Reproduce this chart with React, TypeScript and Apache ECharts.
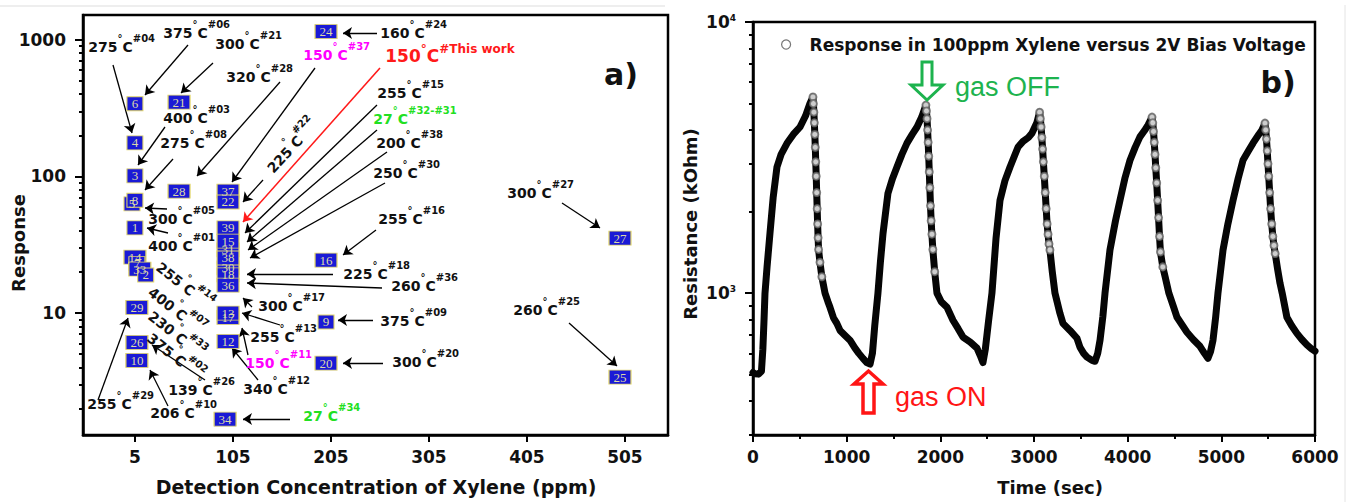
import { useEffect, useRef } from 'react';
import * as echarts from 'echarts';

const FONT = 'DejaVu Sans';
const INK = '#111';

// ---------- panel a) ----------
const xTicksA = [5, 105, 205, 305, 405, 505];
const yMajorA = [10, 100, 1000];
const yMinorA = [2, 3, 4, 5, 6, 7, 8, 9, 20, 30, 40, 50, 60, 70, 80, 90, 200, 300, 400, 500, 600, 700, 800, 900];

const squareIds = ['6', '21', '4', '3', '28', '37', '22', '5', '8', '1', '31', '30', '18', '39', '15', '38', '36', '17', '13', '12', '34', '14', '7', '33', '2', '29', '26', '10', '24', '16', '9', '20', '27', '25'];
const squareConc = [5, 50, 5, 5, 50, 100, 100, 2, 5, 5, 100, 100, 100, 100, 100, 100, 100, 100, 100, 100, 97, 5, 7, 10, 16, 7, 7, 7, 200, 200, 200, 200, 500, 500];
const squareResp = [340, 350, 176, 101, 78, 78, 65, 63, 67, 42, 29, 21.4, 19, 42, 33.6, 25.3, 16, 9.3, 10, 6.2, 1.67, 25.7, 23, 21, 19, 11, 6.1, 4.5, 1150, 24.4, 8.6, 4.3, 35.4, 3.4];

// ---------- panel b) ----------
const xTicksB = [0, 1000, 2000, 3000, 4000, 5000, 6000];
const yMajorB = [1000, 10000];
const yMinorB = [300, 400, 500, 600, 700, 800, 900, 2000, 3000, 4000, 5000, 6000, 7000, 8000, 9000];
const legendName = 'Response in 100ppm Xylene versus 2V Bias Voltage';
const gasOffTimes = [640, 1846, 3060, 4260, 5466];

const cycle1: [number, number][] = [
  [0, 510], [20, 505], [60, 503], [90, 515], [105, 620], [118, 800], [128, 1000], [150, 1250], [181, 1660], [215, 2250], [256, 2920], [300, 3250], [363, 3570], [430, 3850], [502, 4100], [560, 4500], [608, 5010], [640, 5290],
  [645, 5000], [650, 4650], [655, 4250], [660, 3850], [665, 3450], [670, 3050], [675, 2700], [680, 2350], [685, 2050], [690, 1800], [695, 1600], [700, 1450],
  [715, 1300], [735, 1150], [769, 1000], [800, 930], [822, 887], [860, 810], [895, 774], [929, 729], [980, 700], [1035, 671], [1089, 627], [1130, 600], [1174, 575], [1215, 555], [1250, 548],
];
const cycle2: [number, number][] = [
  [1275, 600], [1300, 760], [1334, 1000], [1360, 1300], [1388, 1660], [1441, 2338], [1490, 2650], [1537, 2920], [1590, 3250], [1644, 3575], [1700, 3850], [1751, 4100], [1800, 4450], [1846, 4940],
  [1852, 4700], [1858, 4400], [1864, 4000], [1870, 3600], [1876, 3200], [1882, 2800], [1888, 2450], [1895, 2100], [1902, 1850], [1910, 1650], [1920, 1450],
  [1940, 1200], [1964, 1000], [2010, 930], [2071, 887], [2135, 795], [2190, 740], [2242, 689], [2320, 660], [2391, 627], [2425, 590], [2455, 555],
];
const cycle3: [number, number][] = [
  [2480, 620], [2515, 790], [2551, 1000], [2595, 1600], [2637, 2200], [2690, 2600], [2744, 2920], [2790, 3200], [2830, 3460], [2883, 3630], [2940, 3750], [2978, 3890], [3030, 4250], [3060, 4650],
  [3068, 4400], [3076, 4100], [3084, 3750], [3092, 3400], [3100, 3050], [3110, 2700], [3120, 2350], [3130, 2050], [3140, 1800], [3150, 1650], [3160, 1520], [3170, 1443],
  [3195, 1200], [3224, 1000], [3277, 843], [3309, 774], [3384, 729], [3459, 682], [3491, 632], [3530, 600], [3566, 581], [3620, 565], [3651, 561],
];
const cycle4: [number, number][] = [
  [3680, 600], [3705, 671], [3735, 820], [3758, 1000], [3811, 1443], [3870, 1850], [3918, 2200], [3970, 2650], [4025, 3090], [4080, 3450], [4131, 3770], [4180, 3980], [4217, 4170], [4260, 4460],
  [4268, 4250], [4276, 3950], [4284, 3600], [4292, 3250], [4300, 2900], [4310, 2550], [4320, 2200], [4330, 1900], [4340, 1620], [4350, 1420],
  [4375, 1250], [4400, 1150], [4440, 1000], [4490, 890], [4527, 815], [4580, 765], [4633, 718], [4700, 675], [4772, 637], [4820, 600], [4857, 575],
];
const cycle5: [number, number][] = [
  [4885, 610], [4911, 671], [4940, 820], [4964, 1000], [5018, 1443], [5070, 1800], [5125, 2200], [5180, 2650], [5231, 3090], [5290, 3350], [5338, 3575], [5400, 3850], [5434, 4000], [5466, 4240],
  [5474, 4000], [5482, 3700], [5490, 3350], [5498, 3000], [5506, 2700], [5516, 2350], [5526, 2050], [5538, 1800], [5550, 1620], [5562, 1500], [5575, 1400],
  [5600, 1230], [5626, 1090], [5650, 1000], [5700, 815], [5750, 760], [5807, 711], [5860, 675], [5914, 645], [5960, 625], [6000, 611],
];

// ---------- annotations (layout) ----------
type Note = { t: string; r: string; x: number; y: number; c?: string; rot?: number; big?: boolean };
const notes: Note[] = [
  { t: '275', r: '#04', x: 88, y: 47 },
  { t: '375', r: '#06', x: 163, y: 33 },
  { t: '300', r: '#21', x: 215, y: 44 },
  { t: '320', r: '#28', x: 226, y: 77 },
  { t: '150', r: '#37', x: 303, y: 55, c: '#ff00ff' },
  { t: '400', r: '#03', x: 163, y: 118 },
  { t: '275', r: '#08', x: 160, y: 143 },
  { t: '225', r: '#22', x: 267, y: 172, rot: 47 },
  { t: '300', r: '#05', x: 148, y: 219 },
  { t: '400', r: '#01', x: 148, y: 246 },
  { t: '160', r: '#24', x: 380, y: 33 },
  { t: '150', r: '#This work', x: 385, y: 56, c: '#ff1a1a', big: true },
  { t: '255', r: '#15', x: 377, y: 93 },
  { t: '27', r: '#32-#31', x: 373, y: 119, c: '#22e022' },
  { t: '200', r: '#38', x: 376, y: 143 },
  { t: '250', r: '#30', x: 373, y: 173 },
  { t: '255', r: '#16', x: 378, y: 219 },
  { t: '300', r: '#27', x: 507, y: 193 },
  { t: '225', r: '#18', x: 343, y: 274 },
  { t: '260', r: '#36', x: 391, y: 286 },
  { t: '300', r: '#17', x: 258, y: 306 },
  { t: '375', r: '#09', x: 380, y: 321 },
  { t: '260', r: '#25', x: 513, y: 310 },
  { t: '255', r: '#13', x: 250, y: 337 },
  { t: '150', r: '#11', x: 245, y: 363, c: '#ff00ff' },
  { t: '300', r: '#20', x: 392, y: 362 },
  { t: '340', r: '#12', x: 243, y: 389 },
  { t: '139', r: '#26', x: 168, y: 390 },
  { t: '206', r: '#10', x: 150, y: 413 },
  { t: '255', r: '#29', x: 87, y: 404 },
  { t: '27', r: '#34', x: 303, y: 416, c: '#22e022' },
  { t: '255', r: '#14', x: 160, y: 266, rot: -38 },
  { t: '400', r: '#07', x: 152, y: 291, rot: -38 },
  { t: '230', r: '#33', x: 152, y: 315, rot: -38 },
  { t: '375', r: '#02', x: 151, y: 337, rot: -38 },
];

const arrows: [number, number, number, number, string?][] = [
  [113, 65, 132, 133], [188, 45, 145, 95], [213, 63, 181, 93], [280, 82, 197, 176], [315, 68, 232, 182],
  [380, 68, 243, 222, '#ff1a1a'], [165, 127, 138, 165], [173, 159, 145, 190], [263, 180, 243, 202],
  [167, 209, 145, 208], [168, 233, 147, 228], [377, 33, 343, 33], [377, 105, 245, 233], [377, 130, 247, 242],
  [387, 152, 248, 250], [385, 183, 250, 258], [376, 230, 343, 255], [333, 274, 247, 274], [382, 288, 247, 283],
  [252, 307, 243, 298], [280, 325, 242, 313], [248, 355, 242, 328], [258, 380, 232, 348], [373, 320, 338, 320],
  [383, 363, 343, 363], [562, 203, 600, 228], [569, 323, 617, 366], [290, 419, 243, 419], [205, 380, 152, 345],
  [168, 406, 150, 370], [98, 400, 128, 318],
];

function noteRich(size: number, sup: number, lh: number) {
  return {
    z: { fontSize: 1, lineHeight: lh },
    m: { fontSize: size, fontWeight: 'bold', fontFamily: FONT, lineHeight: size, verticalAlign: 'bottom' },
    s: { fontSize: sup, fontWeight: 'bold', fontFamily: FONT, lineHeight: sup, verticalAlign: 'top' },
  };
}

function buildOption() {
  const curve = [...cycle1, ...cycle2, ...cycle3, ...cycle4, ...cycle5];
  const dropPts = curve.filter(([t]) => gasOffTimes.some((o) => t >= o && t <= o + 115));

  const axisLine = { show: true, onZero: false, lineStyle: { color: '#000', width: 2.5 } };
  const tickLine = { color: '#000', width: 2 };
  const labelBase = { fontFamily: FONT, fontWeight: 'bold', fontSize: 17, color: INK, formatter: (v: number) => String(v) };

  const noteGraphics = notes.map((n) => {
    const size = n.big ? 17 : 14;
    const sup = n.big ? 12 : 10;
    const lh = n.big ? 22 : 21;
    return {
      type: 'text',
      x: n.x,
      y: n.y - (lh - size) / 2,
      rotation: ((n.rot || 0) * Math.PI) / 180,
      z: 50,
      style: {
        text: `{z| }{m|${n.t}}{s|°}{m|C}{s|${n.r}}`,
        rich: noteRich(size, sup, lh),
        fill: n.c || INK,
        align: 'left',
        verticalAlign: 'middle',
      },
    };
  });

  const titleStyle = { fontFamily: FONT, fontWeight: 'bold', fontSize: 18, fill: INK, align: 'center', verticalAlign: 'middle' };

  return {
    animation: false,
    backgroundColor: '#fff',
    grid: [
      { left: 83, top: 15, width: 585, height: 420, show: true, borderColor: '#000', borderWidth: 2.5, outerBoundsMode: 'none' },
      { left: 753, top: 22, width: 562, height: 413, show: true, borderColor: '#000', borderWidth: 2.5, outerBoundsMode: 'none' },
    ],
    legend: {
      data: [legendName],
      left: 776,
      top: 31,
      icon: 'circle',
      itemWidth: 9,
      itemHeight: 9,
      itemStyle: { color: '#fff', borderColor: '#777', borderWidth: 1.2 },
      textStyle: { fontFamily: FONT, fontWeight: 'bold', fontSize: 17, color: INK, padding: [0, 0, 0, 14] },
      selectedMode: false,
    },
    xAxis: [
      {
        gridIndex: 0, type: 'value', min: -48, max: 549,
        axisLine, splitLine: { show: false },
        axisTick: { show: true, customValues: xTicksA, length: 7, lineStyle: tickLine },
        axisLabel: { ...labelBase, customValues: xTicksA, margin: 13 },
      },
      {
        gridIndex: 1, type: 'value', min: 0, max: 6000, interval: 1000,
        axisLine, splitLine: { show: false },
        axisTick: { show: true, length: 7, lineStyle: tickLine },
        minorTick: { show: true, splitNumber: 2, length: 4, lineStyle: tickLine },
        axisLabel: { ...labelBase, customValues: xTicksB, margin: 13 },
      },
    ],
    yAxis: [
      {
        gridIndex: 0, type: 'log', position: 'left', min: 1.28, max: 1520,
        axisLine, splitLine: { show: false },
        axisTick: { show: true, customValues: yMajorA, length: 8, lineStyle: tickLine },
        axisLabel: { ...labelBase, customValues: yMajorA, margin: 17 },
      },
      {
        gridIndex: 0, type: 'log', position: 'left', min: 1.28, max: 1520,
        axisLine: { show: false, onZero: false }, splitLine: { show: false },
        axisTick: { show: true, customValues: yMinorA, length: 4, lineStyle: tickLine },
        axisLabel: { show: false },
      },
      {
        gridIndex: 1, type: 'log', position: 'left', min: 300, max: 10000,
        axisLine, splitLine: { show: false },
        axisTick: { show: true, customValues: yMajorB, length: 8, lineStyle: tickLine },
        axisLabel: {
          customValues: yMajorB, margin: 17,
          formatter: (v: number) => `{b|10}{s|${Math.round(Math.log10(v))}}`,
          rich: {
            b: { fontFamily: FONT, fontWeight: 'bold', fontSize: 17, color: INK, lineHeight: 17, verticalAlign: 'bottom' },
            s: { fontFamily: FONT, fontWeight: 'bold', fontSize: 9, color: INK, lineHeight: 9, verticalAlign: 'top' },
          },
        },
      },
      {
        gridIndex: 1, type: 'log', position: 'left', min: 300, max: 10000,
        axisLine: { show: false, onZero: false }, splitLine: { show: false },
        axisTick: { show: true, customValues: yMinorB, length: 4, lineStyle: tickLine },
        axisLabel: { show: false },
      },
    ],
    series: [
      {
        name: 'literature',
        type: 'scatter',
        xAxisIndex: 0,
        yAxisIndex: 0,
        symbol: 'rect',
        z: 5,
        data: squareIds.map((id, i) => ({
          value: [squareConc[i], squareResp[i]],
          symbolSize: id.length > 1 ? [22, 14] : [16, 14],
        })),
        itemStyle: { color: '#1a1ad6', borderColor: '#e2d66a', borderWidth: 1, opacity: 1 },
        label: {
          show: true, position: 'inside', color: '#dcd8a8', fontFamily: 'Liberation Serif', fontSize: 13,
          formatter: (p: any) => squareIds[p.dataIndex],
        },
        emphasis: { disabled: true },
        markLine: {
          silent: true,
          symbol: ['none', 'arrow'],
          symbolSize: 9,
          label: { show: false },
          lineStyle: { color: '#000', width: 1.3, type: 'solid' },
          emphasis: { disabled: true },
          data: arrows.map(([x1, y1, x2, y2, c]) => [
            { x: x1, y: y1, lineStyle: { color: c || '#000', width: c ? 1.6 : 1.3, type: 'solid' }, itemStyle: { color: c || '#000' } },
            { x: x2, y: y2 },
          ]),
        },
      },
      {
        name: legendName,
        type: 'line',
        xAxisIndex: 1,
        yAxisIndex: 2,
        data: curve,
        showSymbol: false,
        symbol: 'none',
        lineStyle: { color: '#050505', width: 7, join: 'round', cap: 'round' },
        itemStyle: { color: '#050505' },
        emphasis: { disabled: true },
      },
      {
        name: 'gas-off samples',
        type: 'scatter',
        xAxisIndex: 1,
        yAxisIndex: 2,
        data: dropPts,
        symbol: 'emptyCircle',
        symbolSize: 7,
        itemStyle: { color: '#666', borderWidth: 1 },
        emphasis: { disabled: true },
        z: 3,
      },
    ],
    graphic: [
      { type: 'line', shape: { x1: 0, y1: 6, x2: 665, y2: 6 }, style: { stroke: '#ddd', lineWidth: 1 } },
      { type: 'line', shape: { x1: 1345, y1: 5, x2: 1345, y2: 502 }, style: { stroke: '#e4e4e4', lineWidth: 1 } },
      { type: 'text', x: 18, y: 243, rotation: Math.PI / 2, style: { ...titleStyle, text: 'Response' } },
      { type: 'text', x: 376, y: 487, style: { ...titleStyle, fontSize: 19, text: 'Detection Concentration of Xylene (ppm)' } },
      { type: 'text', x: 690, y: 224, rotation: Math.PI / 2, style: { ...titleStyle, text: 'Resistance (kOhm)' } },
      { type: 'text', x: 1050, y: 487, style: { ...titleStyle, text: 'Time (sec)' } },
      { type: 'text', x: 621, y: 74, style: { ...titleStyle, fontSize: 30, text: 'a)' } },
      { type: 'text', x: 1278, y: 82, style: { ...titleStyle, fontSize: 30, text: 'b)' } },
      { type: 'text', x: 955, y: 87, style: { text: 'gas OFF', fontFamily: 'Liberation Sans', fontSize: 27, fill: '#1db34e', align: 'left', verticalAlign: 'middle' } },
      { type: 'text', x: 895, y: 397, style: { text: 'gas ON', fontFamily: 'Liberation Sans', fontSize: 27, fill: '#ff1515', align: 'left', verticalAlign: 'middle' } },
      {
        type: 'polygon', z: 60,
        shape: { points: [[922, 62], [932, 62], [932, 85], [943, 85], [927, 100], [911, 85], [922, 85]] },
        style: { fill: '#fff', stroke: '#1db34e', lineWidth: 3 },
      },
      {
        type: 'polygon', z: 60,
        shape: { points: [[863, 413], [874, 413], [874, 384], [883, 384], [868.5, 371], [854, 384], [863, 384]] },
        style: { fill: '#fff', stroke: '#ff1515', lineWidth: 3.5 },
      },
      ...noteGraphics,
    ],
  };
}

export default function App() {
  const ref = useRef<HTMLDivElement>(null);
  useEffect(() => {
    if (!ref.current) return;
    const chart = echarts.init(ref.current, null, { renderer: 'svg' });
    chart.setOption(buildOption() as any);
    return () => chart.dispose();
  }, []);
  return <div ref={ref} style={{ position: 'absolute', left: 0, top: 0, width: 1349, height: 502, background: '#fff' }} />;
}
